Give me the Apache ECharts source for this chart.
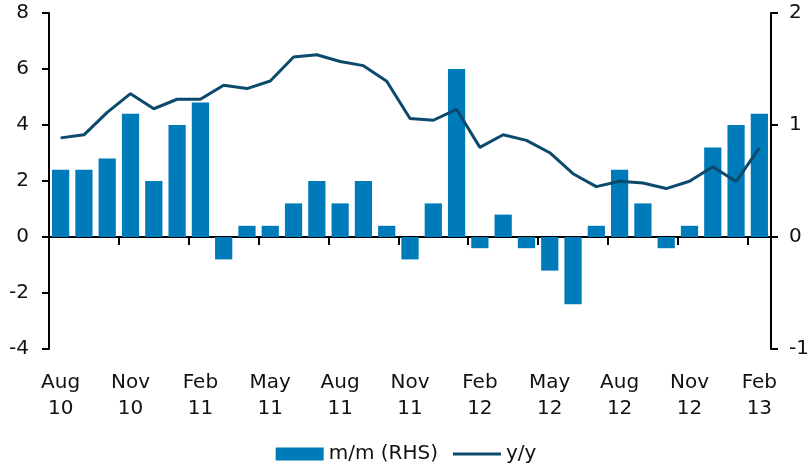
<!DOCTYPE html>
<html>
<head>
<meta charset="utf-8">
<script src="https://cdn.jsdelivr.net/npm/echarts@6/dist/echarts.min.js"></script>
<style>html,body{margin:0;padding:0;background:#fff}#c{width:812px;height:472px}</style>
</head>
<body>
<div id="c"></div>
<script>
const months = ["Aug 10","Sep 10","Oct 10","Nov 10","Dec 10","Jan 11","Feb 11","Mar 11","Apr 11","May 11","Jun 11","Jul 11","Aug 11","Sep 11","Oct 11","Nov 11","Dec 11","Jan 12","Feb 12","Mar 12","Apr 12","May 12","Jun 12","Jul 12","Aug 12","Sep 12","Oct 12","Nov 12","Dec 12","Jan 13","Feb 13"];
const mm = [0.6,0.6,0.7,1.1,0.5,1.0,1.2,-0.2,0.1,0.1,0.3,0.5,0.3,0.5,0.1,-0.2,0.3,1.5,-0.1,0.2,-0.1,-0.3,-0.6,0.1,0.6,0.3,-0.1,0.1,0.8,1.0,1.1];
const yy = [3.54,3.65,4.45,5.12,4.58,4.92,4.92,5.42,5.30,5.57,6.43,6.51,6.27,6.12,5.56,4.23,4.17,4.56,3.20,3.65,3.45,3.01,2.26,1.80,1.99,1.93,1.73,1.99,2.51,1.98,3.18];
const leftTicks = {min:-4, max:8, interval:2};
const rightTicks = {min:-1, max:2, interval:1};

const FONT = "DejaVu Sans";
const LINE_ICON = 'path://M0,0L48,0L48,0.01L0,0.01ZM0,5L48,5L48,8L0,8ZM0,13L48,13L48,13.01L0,13.01Z';
const chart = echarts.init(document.getElementById('c'), null, {renderer:'canvas'});
chart.setOption({
  animation:false,
  textStyle:{fontFamily:FONT},
  grid:{left:49, right:41, top:13, bottom:123, containLabel:false},
  legend:{
    bottom:3, left:'center', itemWidth:48, itemHeight:13, itemGap:15,
    textStyle:{fontSize:20, color:'#111', fontFamily:FONT},
    data:[{name:'m/m (RHS)', icon:'rect'}, {name:'y/y', icon:LINE_ICON}]
  },
  xAxis:[
    {type:'category', data:months, boundaryGap:true,
     axisLine:{onZero:true, lineStyle:{color:'#000', width:2}},
     axisTick:{show:true, interval:2, length:8, lineStyle:{color:'#000', width:2}},
     axisLabel:{show:false}, splitLine:{show:false}},
    {type:'category', data:months, boundaryGap:true, position:'bottom',
     axisLine:{show:false, onZero:false}, axisTick:{show:false}, splitLine:{show:false},
     axisLabel:{interval:2, fontSize:20, color:'#111', lineHeight:26, margin:21, fontFamily:FONT,
       formatter:function(v){return v.replace(' ', '\n');}}}
  ],
  yAxis:[
    {type:'value', position:'left', min:leftTicks.min, max:leftTicks.max, interval:leftTicks.interval,
     axisLine:{show:true, onZero:false, lineStyle:{color:'#000', width:2}},
     axisTick:{show:true, length:7, lineStyle:{color:'#000', width:2}},
     axisLabel:{fontSize:20, color:'#111', margin:20, fontFamily:FONT},
     splitLine:{show:false}},
    {type:'value', position:'right', min:rightTicks.min, max:rightTicks.max, interval:rightTicks.interval,
     axisLine:{show:true, onZero:false, lineStyle:{color:'#000', width:2}},
     axisTick:{show:true, length:7, lineStyle:{color:'#000', width:2}},
     axisLabel:{fontSize:20, color:'#111', margin:18, fontFamily:FONT},
     splitLine:{show:false}}
  ],
  series:[
    {name:'m/m (RHS)', type:'bar', xAxisIndex:0, yAxisIndex:1, data:mm,
     barCategoryGap:'26%', itemStyle:{color:'#007bba'}, z:2},
    {name:'y/y', type:'line', xAxisIndex:0, yAxisIndex:0, data:yy,
     symbol:'none', lineStyle:{color:'#0b4a6d', width:3}, itemStyle:{color:'#0b4a6d'}, z:3}
  ]
});
</script>
</body>
</html>
